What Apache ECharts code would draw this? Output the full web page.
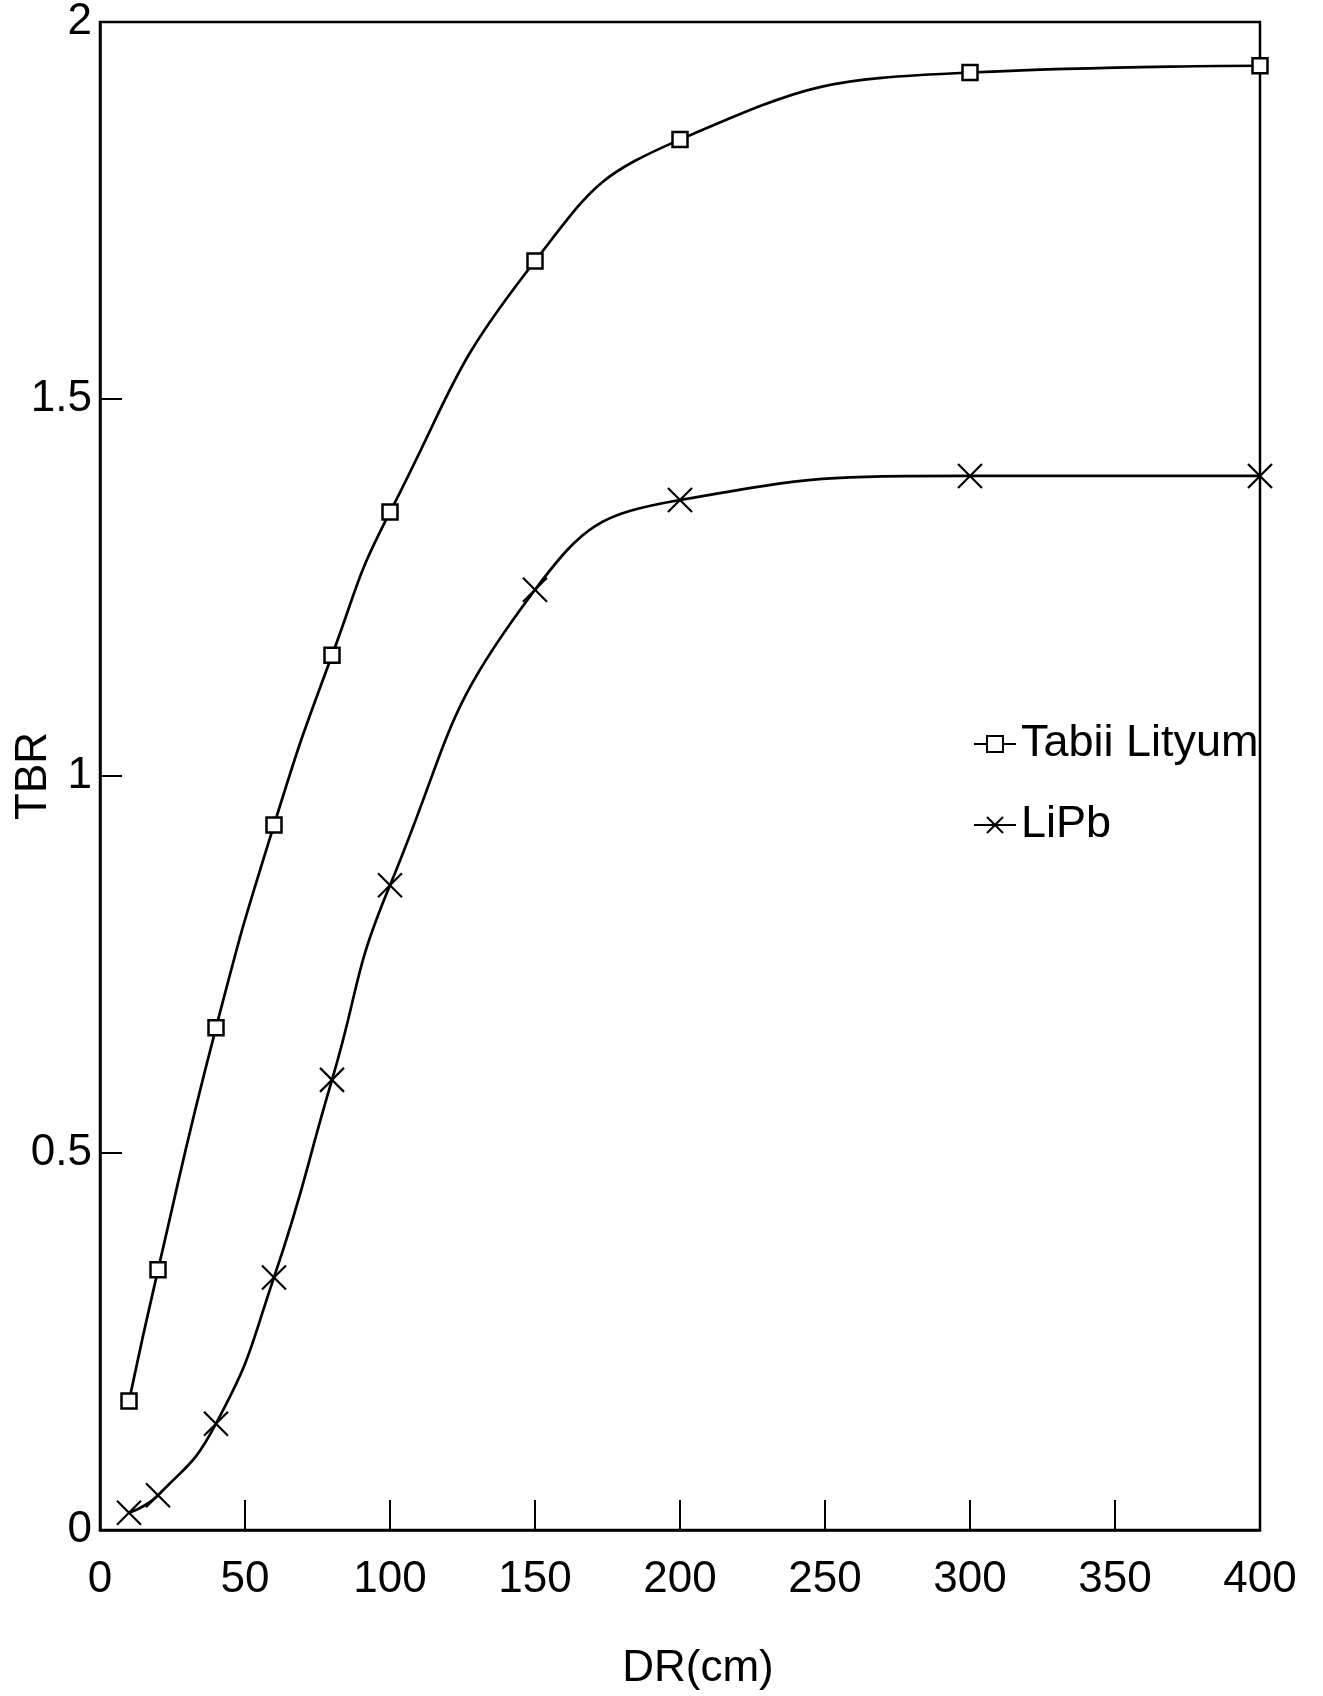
<!DOCTYPE html>
<html>
<head>
<meta charset="utf-8">
<title>TBR - DR</title>
<script src="https://cdn.jsdelivr.net/npm/echarts@6/dist/echarts.min.js"></script>
<style>
  html, body { margin: 0; padding: 0; background: #fff; }
  #chart { width: 1323px; height: 1696px; }
</style>
</head>
<body>
<div id="chart"></div>
<script>
  // DR (cm) values where points were computed
  const drValues = [10, 20, 40, 60, 80, 100, 150, 200, 300, 400];
  // TBR
  const tabiiLityum = [0.171, 0.345, 0.666, 0.935, 1.16, 1.35, 1.683, 1.844, 1.933, 1.942];
  const liPb = [0.023, 0.046, 0.141, 0.335, 0.597, 0.855, 1.247, 1.366, 1.398, 1.398];
  const seriesNames = ['Tabii Lityum', 'LiPb'];

  const fontFam = '"Liberation Sans", Arial, sans-serif';
  const crossPath = 'path://M0,0L10,10M10,0L0,10';

  function pairs(ys) {
    return drValues.map(function (x, i) { return [x, ys[i]]; });
  }

  const myChart = echarts.init(document.getElementById('chart'));
  myChart.setOption({
    backgroundColor: '#fff',
    animation: false,
    textStyle: { fontFamily: fontFam, color: '#000' },
    grid: {
      left: 100,
      right: 63,
      top: 22,
      bottom: 166,
      outerBoundsMode: 'none',
      containLabel: false,
      show: true,
      borderColor: '#000',
      borderWidth: 2.5
    },
    legend: {
      orient: 'vertical',
      left: 968,
      top: 715,
      itemWidth: 42,
      itemHeight: 20,
      itemGap: 33,
      data: seriesNames,
      textStyle: { fontSize: 45, color: '#000', fontFamily: fontFam, lineHeight: 48 }
    },
    xAxis: {
      type: 'value',
      min: 0,
      max: 400,
      interval: 50,
      name: 'DR(cm)',
      nameLocation: 'middle',
      nameGap: 117,
      nameMoveOverlap: false,
      nameTextStyle: { fontSize: 44, color: '#000', padding: [0, 0, 0, 36] },
      axisLine: { lineStyle: { color: '#000', width: 2.5 } },
      axisTick: { inside: true, length: 30, lineStyle: { color: '#000', width: 2 } },
      axisLabel: { fontSize: 44, color: '#000', margin: 28 },
      splitLine: { show: false }
    },
    yAxis: {
      type: 'value',
      min: 0,
      max: 2,
      interval: 0.5,
      name: 'TBR',
      nameLocation: 'middle',
      nameGap: 44,
      nameMoveOverlap: false,
      nameTextStyle: { fontSize: 44, color: '#000' },
      axisLine: { lineStyle: { color: '#000', width: 2.5 } },
      axisTick: { inside: true, length: 22, lineStyle: { color: '#000', width: 2 } },
      axisLabel: { fontSize: 44, color: '#000', margin: 8 },
      splitLine: { show: false }
    },
    series: [
      {
        name: seriesNames[0],
        type: 'line',
        data: pairs(tabiiLityum),
        smooth: 0.5,
        symbol: 'rect',
        symbolSize: 15,
        showAllSymbol: true,
        lineStyle: { color: '#000', width: 2.7 },
        itemStyle: { color: '#fff', borderColor: '#000', borderWidth: 2.5 }
      },
      {
        name: seriesNames[1],
        type: 'line',
        data: pairs(liPb),
        smooth: 0.5,
        symbol: crossPath,
        symbolSize: 24,
        showAllSymbol: true,
        lineStyle: { color: '#000', width: 2.7 },
        itemStyle: { color: '#000', borderColor: '#000', borderWidth: 2.2 }
      }
    ]
  });
</script>
</body>
</html>
